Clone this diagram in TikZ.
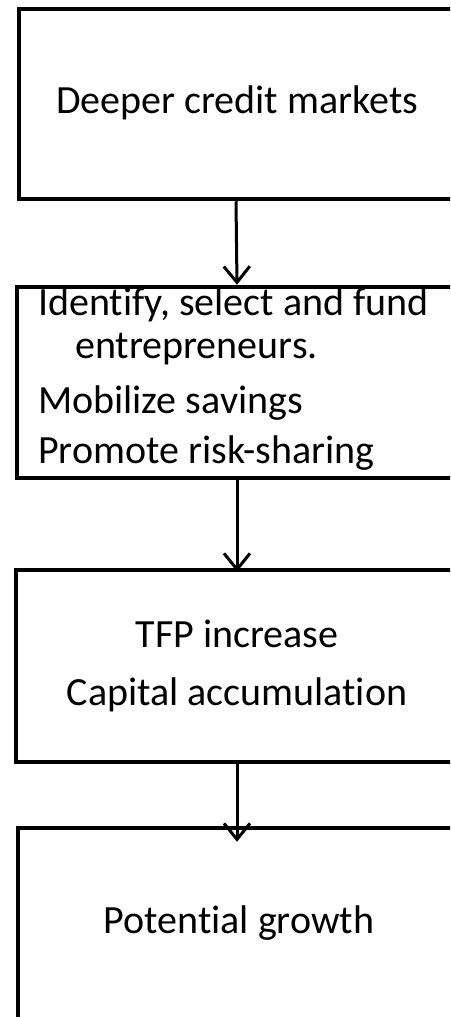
\documentclass[tikz,border=0pt]{standalone}
\usepackage{fontspec}
\setmainfont{Carlito}[Ligatures=NoCommon]
\usetikzlibrary{arrows.meta}
\begin{document}
\begin{tikzpicture}[x=1pt,y=-1pt,
  box/.style={draw=black,line width=4.5pt,inner sep=0pt},
  txt/.style={font=\fontsize{40}{48}\selectfont,inner sep=0pt,anchor=base},
  txtl/.style={txt,anchor=base west},
  flow/.style={line width=3pt,-{Straight Barb[length=16pt,width=26pt,line width=3pt]}}]
\useasboundingbox (0,0) rectangle (450,1017);
\clip (0,0) rectangle (450,1017);
\fill[white] (0,0) rectangle (450,1017);

% the four stages, their right sides run past the page edge
\node[box,minimum width=434pt,minimum height=190pt] (b1) at (236,104) {};
\node[box,minimum width=440pt,minimum height=191pt] (b2) at (237,382.5) {};
\node[box,minimum width=442pt,minimum height=192pt] (b3) at (237,666) {};
\node[box,minimum width=438pt,minimum height=192pt] (b4) at (237,924) {};

% texts
\node[txt] (t1) at (237,113) {Deeper credit markets};
\node[txtl] (t2a) at (38,315) {Identify, select and fund};
\node[txtl] (t2b) at (75,358) {entrepreneurs.};
\node[txtl] (t2c) at (38,413) {Mobilize savings};
\node[txtl] (t2d) at (38,463) {Promote risk-sharing};
\node[txt] (t3a) at (237,647) {TFP increase};
\node[txt] (t3b) at (237,705) {Capital accumulation};
\node[txt] (t4) at (239,933) {Potential growth};

% arrows between stages
\draw[flow] (b1.south) -- (b2.north);
\draw[flow,shorten >=-4pt] (b2.south) -- (b3.north);
\draw[flow,shorten >=-16pt] (b3.south) -- (b4.north);
\end{tikzpicture}
\end{document}
